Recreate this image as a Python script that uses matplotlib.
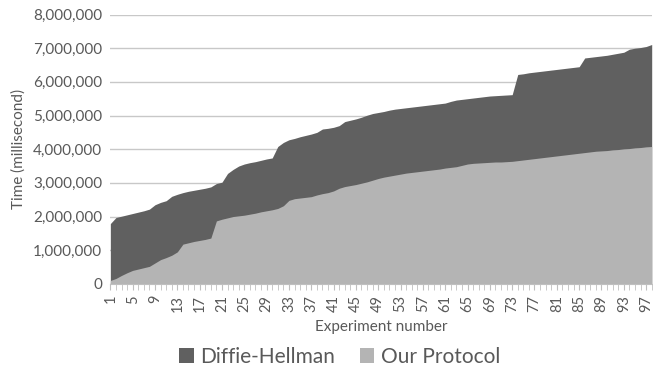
import numpy as np
import matplotlib.pyplot as plt
from matplotlib.ticker import FuncFormatter, MultipleLocator

# Experiment index 1..98
experiments = list(range(1, 99))

# Times, in millions of milliseconds
diffie_hellman = [
    1.79, 1.97, 2.01, 2.05, 2.09, 2.13, 2.17, 2.22, 2.35, 2.42,
    2.47, 2.60, 2.66, 2.71, 2.75, 2.78, 2.81, 2.84, 2.88, 2.98,
    3.02, 3.28, 3.40, 3.50, 3.56, 3.60, 3.63, 3.67, 3.71, 3.74,
    4.08, 4.20, 4.28, 4.32, 4.37, 4.41, 4.45, 4.50, 4.60, 4.62,
    4.65, 4.70, 4.82, 4.86, 4.90, 4.95, 5.01, 5.06, 5.09, 5.12,
    5.16, 5.19, 5.21, 5.23, 5.25, 5.27, 5.29, 5.31, 5.33, 5.35,
    5.37, 5.42, 5.46, 5.48, 5.50, 5.52, 5.54, 5.56, 5.58, 5.59,
    5.60, 5.61, 5.62, 6.22, 6.24, 6.27, 6.29, 6.31, 6.33, 6.35,
    6.37, 6.39, 6.41, 6.43, 6.45, 6.71, 6.73, 6.75, 6.77, 6.79,
    6.82, 6.85, 6.88, 6.97, 7.00, 7.02, 7.05, 7.11,
]
our_protocol = [
    0.10, 0.16, 0.25, 0.33, 0.40, 0.44, 0.48, 0.52, 0.62, 0.72,
    0.78, 0.85, 0.95, 1.18, 1.22, 1.26, 1.29, 1.32, 1.36, 1.87,
    1.92, 1.96, 2.00, 2.02, 2.04, 2.07, 2.10, 2.14, 2.17, 2.20,
    2.24, 2.32, 2.48, 2.53, 2.55, 2.57, 2.59, 2.64, 2.68, 2.71,
    2.76, 2.84, 2.89, 2.92, 2.95, 2.99, 3.03, 3.08, 3.13, 3.17,
    3.20, 3.23, 3.26, 3.29, 3.31, 3.33, 3.35, 3.37, 3.39, 3.41,
    3.44, 3.46, 3.48, 3.52, 3.56, 3.58, 3.59, 3.60, 3.61, 3.62,
    3.62, 3.63, 3.64, 3.66, 3.68, 3.70, 3.72, 3.74, 3.76, 3.78,
    3.80, 3.82, 3.84, 3.86, 3.88, 3.90, 3.92, 3.94, 3.95, 3.96,
    3.98, 3.99, 4.01, 4.02, 4.04, 4.05, 4.07, 4.08,
]

plt.rcParams['font.family'] = ['Lato', 'DejaVu Sans']
TEXT = "#595959"

fig = plt.figure(figsize=(6.53, 3.73), dpi=100)
ax = fig.add_axes([0.169, 0.239, 0.829, 0.722])

x = np.array(experiments)
dh = np.array(diffie_hellman) * 1e6
ours = np.array(our_protocol) * 1e6

# Excel-style area chart: first series behind, second in front
ax.fill_between(x, 0, dh, color="#606060", linewidth=0, label="Diffie-Hellman")
ax.fill_between(x, 0, ours, color="#b4b4b4", linewidth=0, label="Our Protocol")

ax.set_xlim(1, 98)
ax.set_ylim(0, 8e6)
ax.yaxis.set_major_locator(MultipleLocator(1e6))
ax.yaxis.set_major_formatter(FuncFormatter(lambda v, p: f"{int(v):,}"))
ax.grid(axis="y", color="#c8c8c8", linewidth=1)
ax.set_axisbelow(True)

ax.set_xticks(range(1, 99, 4))
ax.set_xticks(range(1, 99), minor=True)
ax.tick_params(axis="x", which="both", length=4, color="#bfbfbf",
               labelrotation=90, labelsize=10.5, labelcolor=TEXT, pad=4)
ax.tick_params(axis="y", length=0, labelsize=11, labelcolor=TEXT, pad=6)

for side in ["top", "right", "left"]:
    ax.spines[side].set_visible(False)
ax.spines["bottom"].set_color("#bfbfbf")

ax.set_xlabel("Experiment number", color=TEXT, fontsize=11, labelpad=6)
ax.set_ylabel("Time (millisecond)", color=TEXT, fontsize=11, labelpad=5)

fig.legend(loc="center", bbox_to_anchor=(0.52, 1 - 357 / 373), ncol=2,
           frameon=False, fontsize=15, labelcolor=TEXT, handlelength=0.7,
           handleheight=0.7, handletextpad=0.3, columnspacing=1.2)

fig.savefig("out.png", dpi=100)
